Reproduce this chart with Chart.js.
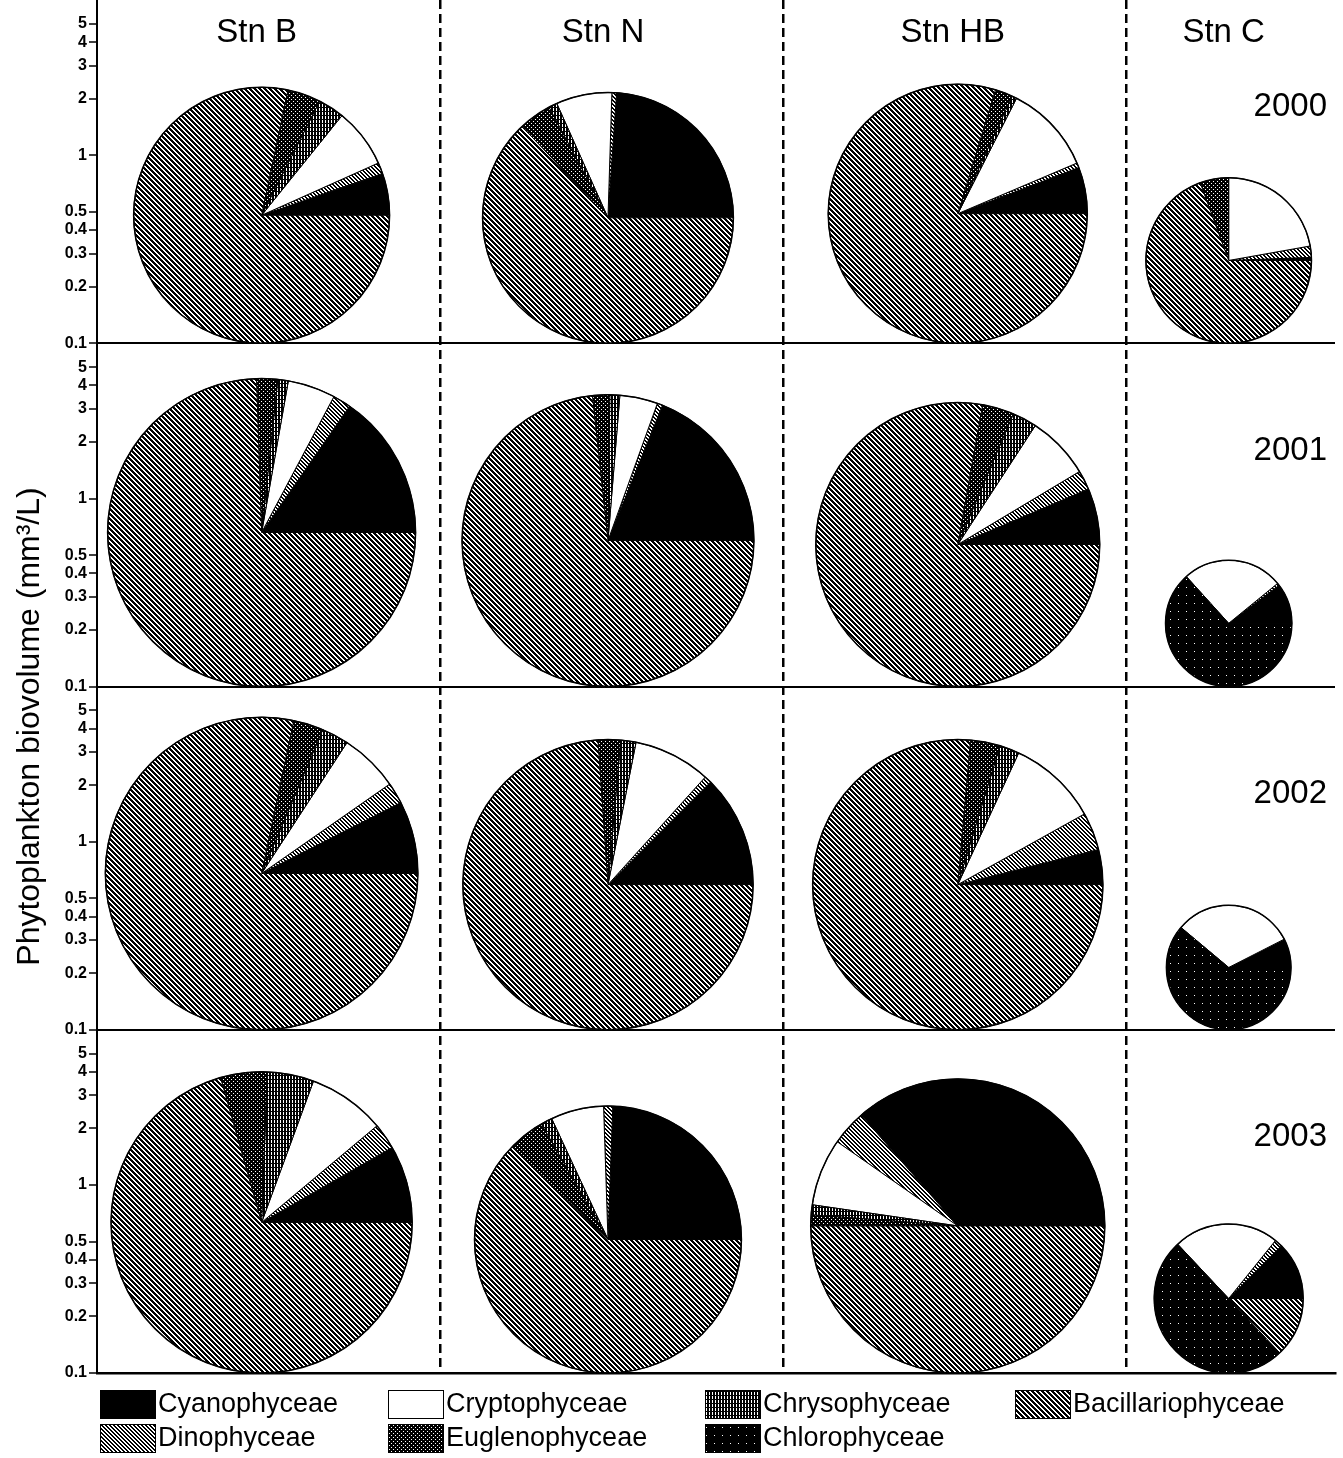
<!DOCTYPE html>
<html>
<head>
<meta charset="utf-8">
<script src="https://cdn.jsdelivr.net/npm/chart.js@4.4.1/dist/chart.umd.min.js"></script>
<style>
  html, body { margin: 0; padding: 0; background: #fff; }
  #wrap { width: 1343px; height: 1458px; }
</style>
</head>
<body>
<div id="wrap"><canvas id="chart" width="1343" height="1458"></canvas></div>
<script>
const years = ["2000", "2001", "2002", "2003"];
const stations = ["Stn B", "Stn N", "Stn HB", "Stn C"];
const stationX = [0.48, 1.49, 2.51, 3.3];
const yTicks = [0.1, 0.2, 0.3, 0.4, 0.5, 1, 2, 3, 4, 5];

// slice order, counter-clockwise from 3 o'clock
const groups = ["Cyanophyceae", "Dinophyceae", "Cryptophyceae", "Chrysophyceae",
                "Euglenophyceae", "Chlorophyceae", "Bacillariophyceae"];
const legendRows = [
  ["Cyanophyceae", "Cryptophyceae", "Chrysophyceae", "Bacillariophyceae"],
  ["Dinophyceae", "Euglenophyceae", "Chlorophyceae"]
];

// total biovolume (mm3/L) per station: B, N, HB, C
const total2000 = [2.3, 2.16, 2.39, 0.76];
const total2001 = [4.35, 3.57, 3.24, 0.47];
const total2002 = [4.6, 3.5, 3.5, 0.46];
const total2003 = [4.0, 2.63, 3.67, 0.62];

// % share of each group (order as in groups) per station
const share2000 = [
  [5.3, 1.4, 7.5, 3.3, 4.2, 0, 78.3],
  [23.9, 0.6, 7.2, 1.1, 4.2, 0, 63.0],
  [5.8, 0.6, 11.1, 0.6, 2.2, 0, 79.7],
  [0.6, 2.2, 22.2, 0, 5.6, 0, 69.4]
];
const share2001 = [
  [15.3, 1.9, 5.0, 1.1, 2.2, 0, 74.4],
  [18.9, 0.6, 4.2, 1.1, 1.9, 0, 73.3],
  [6.4, 2.2, 7.2, 2.8, 3.6, 0, 77.8],
  [10.3, 0.6, 25.8, 0, 0, 63.3, 0]
];
const share2002 = [
  [7.5, 2.2, 6.1, 2.8, 3.1, 0, 78.3],
  [12.5, 0.8, 8.6, 1.7, 2.5, 0, 73.9],
  [3.9, 4.2, 10.0, 2.2, 3.3, 0, 76.4],
  [7.5, 0, 31.4, 0, 0, 61.1, 0]
];
const share2003 = [
  [8.3, 2.8, 8.3, 5.0, 5.0, 0, 70.6],
  [24.4, 1.1, 6.4, 1.4, 4.4, 0, 62.2],
  [36.4, 3.9, 7.4, 1.1, 1.2, 0, 50.0],
  [12.5, 1.7, 22.8, 0, 0, 50.0, 13.0]
];

const totals = [total2000, total2001, total2002, total2003];
const shares = [share2000, share2001, share2002, share2003];

const canvas = document.getElementById("chart");
const mainCtx = canvas.getContext("2d");

// little fill patterns imitating the print hatching
function tile(w, h, bg, fg, px) {
  const c = document.createElement("canvas");
  c.width = w; c.height = h;
  const g = c.getContext("2d");
  g.fillStyle = bg; g.fillRect(0, 0, w, h);
  g.fillStyle = fg;
  px.forEach(([x, y]) => g.fillRect(x, y, 1, 1));
  return mainCtx.createPattern(c, "repeat");
}
function diag(n, k) {
  // "\" stripes, k dark pixels out of every n
  const px = [];
  for (let y = 0; y < n; y++) for (let j = 0; j < k; j++) px.push([(y + j) % n, y]);
  return px;
}
const fills = {
  Cyanophyceae: "#000",
  Cryptophyceae: "#fff",
  Bacillariophyceae: tile(5, 5, "#fff", "#000", diag(5, 3)),
  Dinophyceae: tile(4, 4, "#fff", "#000", diag(4, 2)),
  Chrysophyceae: tile(3, 4, "#000", "#fff", [[1,0],[1,1],[1,2]]),
  Euglenophyceae: tile(4, 4, "#000", "#fff", [[1,1],[3,3]]),
  Chlorophyceae: tile(8, 8, "#000", "#fff", [[2,3]])
};

const datasets = years.map((yr, d) => ({
  label: yr,
  yAxisID: "y" + yr,
  data: stations.map((s, i) => ({ x: stationX[i], y: totals[d][i] })),
  shares: shares[d],
  pointRadius: 0,
  showLine: false
}));

const scales = {
  x: {
    type: "linear", position: "bottom", min: 0, max: 3.61,
    afterBuildTicks: s => { s.ticks = [1, 2, 3].map(v => ({ value: v })); },
    afterFit: s => { s.height = 0; },
    ticks: { display: false },
    grid: { color: "#000", lineWidth: 2.5, drawTicks: false },
    border: { display: true, color: "#000", width: 2.5, dash: [9, 5] }
  }
};
years.forEach((yr, i) => {
  scales["y" + yr] = {
    type: "logarithmic", position: "left", stack: "rows", stackWeight: 1, weight: 4 - i,
    min: 0.1, max: 6.7,
    afterBuildTicks: s => { s.ticks = yTicks.map(v => ({ value: v })); },
    afterFit: s => { s.width = 50; s.paddingTop = 0; s.paddingBottom = 0; },
    ticks: {
      autoSkip: false, color: "#000", padding: 2,
      font: { family: "Liberation Sans", weight: "bold", size: 16 },
      callback: v => String(v)
    },
    grid: {
      color: c => (c.tick && c.tick.value === 0.1) ? "#000" : "rgba(0,0,0,0)",
      lineWidth: 2, tickColor: "#000", tickLength: 8, tickWidth: 1.5
    },
    border: { display: true, color: "#000", width: 2 }
  };
});

// pies sit on each row's baseline, their top at the total biovolume
const piePlugin = {
  id: "pies",
  afterDatasetsDraw(chart) {
    const ctx = chart.ctx;
    chart.data.datasets.forEach((ds, d) => {
      const meta = chart.getDatasetMeta(d);
      const ys = chart.scales[meta.yAxisID];
      const base = ys.getPixelForValue(ys.min);
      meta.data.forEach((pt, i) => {
        const r = (base - pt.y) / 2;
        const cx = pt.x, cy = base - r;
        const parts = ds.shares[i];
        const sum = parts.reduce((a, b) => a + b, 0);
        let a0 = 0;
        ctx.save();
        parts.forEach((v, k) => {
          if (!v) return;
          const a1 = a0 - v / sum * Math.PI * 2;
          ctx.beginPath();
          ctx.moveTo(cx, cy);
          ctx.arc(cx, cy, r, a0, a1, true);
          ctx.closePath();
          ctx.fillStyle = fills[groups[k]];
          ctx.fill();
          ctx.lineWidth = 1;
          ctx.strokeStyle = "#000";
          ctx.stroke();
          a0 = a1;
        });
        ctx.beginPath();
        ctx.arc(cx, cy, r, 0, Math.PI * 2);
        ctx.lineWidth = 1.5;
        ctx.strokeStyle = "#000";
        ctx.stroke();
        ctx.restore();
      });
    });
  }
};

const decoPlugin = {
  id: "deco",
  afterDraw(chart) {
    const { ctx, chartArea, scales } = chart;
    const font = '"Liberation Sans", Arial, sans-serif';
    ctx.save();
    ctx.fillStyle = "#000";
    ctx.textBaseline = "middle";
    ctx.textAlign = "center";
    ctx.font = "33px " + font;
    stations.forEach((s, i) => ctx.fillText(s, scales.x.getPixelForValue(stationX[i]) - 5, chartArea.top + 33));
    ctx.textAlign = "right";
    years.forEach(yr => ctx.fillText(yr, chartArea.right - 8, scales["y" + yr].getPixelForValue(1.8)));

    ctx.save();
    ctx.translate(30, (chartArea.top + chartArea.bottom) / 2 + 40);
    ctx.rotate(-Math.PI / 2);
    ctx.textAlign = "center";
    ctx.font = "32px " + font;
    ctx.fillText("Phytoplankton biovolume (mm\u00b3/L)", 0, 0);
    ctx.restore();

    // legend, four columns
    const colX = [3, 291, 608, 918];
    ctx.font = "27px " + font;
    ctx.textAlign = "left";
    legendRows.forEach((row, r) => {
      const top = chartArea.bottom + 17 + r * 34;
      row.forEach((name, c) => {
        const x = chartArea.left + colX[c];
        ctx.fillStyle = fills[name];
        ctx.fillRect(x, top, 55, 28);
        ctx.lineWidth = 1;
        ctx.strokeStyle = "#000";
        ctx.strokeRect(x + 0.5, top + 0.5, 55, 28);
        ctx.fillStyle = "#000";
        ctx.fillText(name, x + 58, top + 15);
      });
    });
    ctx.restore();
  }
};

new Chart(canvas, {
  type: "scatter",
  data: { datasets },
  options: {
    responsive: false,
    devicePixelRatio: 1,
    animation: false,
    layout: { padding: { left: 47, right: 8, top: 0, bottom: 85 } },
    plugins: { legend: { display: false }, tooltip: { enabled: false } },
    scales
  },
  plugins: [piePlugin, decoPlugin]
});
</script>
</body>
</html>
